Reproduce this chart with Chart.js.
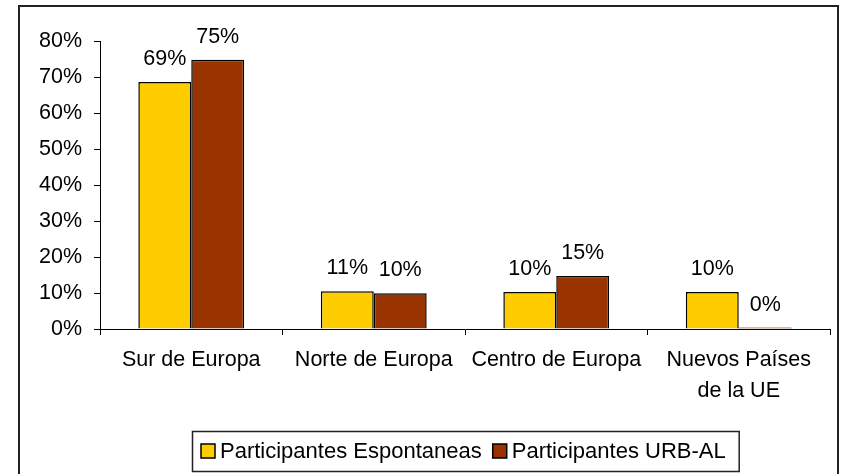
<!DOCTYPE html>
<html>
<head>
<meta charset="utf-8">
<script src="https://cdn.jsdelivr.net/npm/chart.js@4.4.1/dist/chart.umd.min.js"></script>
<style>
  html, body { margin: 0; padding: 0; background: #fff; }
  canvas { display: block; }
</style>
</head>
<body>
<canvas id="grafico" width="848" height="474"></canvas>
<script>
// datos
const categorias = ['Sur de Europa', 'Norte de Europa', 'Centro de Europa', ['Nuevos Países', 'de la UE']];
const espontaneas = [68.6, 10.5, 10.3, 10.3];
const urbal = [74.8, 9.9, 14.7, 0.4];
const ticksY = [0, 10, 20, 30, 40, 50, 60, 70, 80];

const fuente = '"Liberation Sans", Arial, sans-serif';

// marco exterior del grafico
const marco = {
    id: 'marco',
    beforeDraw(chart) {
        const ctx = chart.ctx;
        ctx.save();
        ctx.strokeStyle = '#222';
        ctx.lineWidth = 2;
        ctx.strokeRect(19, 6, 819, 480);
        ctx.restore();
    }
};

// etiquetas de porcentaje arriba de cada barra
const etiquetas = {
    id: 'etiquetas',
    afterDatasetsDraw(chart) {
        const ctx = chart.ctx;
        ctx.save();
        ctx.font = '21.5px ' + fuente;
        ctx.fillStyle = '#000';
        ctx.textAlign = 'center';
        ctx.textBaseline = 'alphabetic';
        chart.data.datasets.forEach((ds, i) => {
            chart.getDatasetMeta(i).data.forEach((bar, j) => {
                ctx.fillText(Math.round(ds.data[j]) + '%', bar.x, bar.y - 17);
            });
        });
        ctx.restore();
    }
};

// leyenda con recuadro, como en Excel
const leyenda = {
    id: 'leyenda',
    afterDraw(chart) {
        const ctx = chart.ctx;
        const area = chart.chartArea;
        ctx.save();
        ctx.font = '22px ' + fuente;
        const items = chart.data.datasets.map(ds => ({
            texto: ds.label, color: ds.backgroundColor, ancho: ctx.measureText(ds.label).width
        }));
        const caja = 14, gapTexto = 5, gapItem = 11, padIzq = 9, padDer = 13;
        let total = padIzq + padDer;
        items.forEach((it, i) => { total += caja + gapTexto + it.ancho + (i > 0 ? gapItem : 0); });
        const top = 431, bottom = 471;
        const left = Math.round((area.left + area.right) / 2 - total / 2);
        const cy = (top + bottom) / 2;
        ctx.strokeStyle = '#222';
        ctx.lineWidth = 1.5;
        ctx.strokeRect(left + 0.5, top + 0.5, total, bottom - top);
        let x = left + padIzq;
        ctx.textBaseline = 'middle';
        ctx.textAlign = 'left';
        items.forEach((it, i) => {
            if (i > 0) x += gapItem;
            ctx.fillStyle = it.color;
            ctx.fillRect(x, cy - 7, caja, caja);
            ctx.strokeStyle = '#000';
            ctx.lineWidth = 1.5;
            ctx.strokeRect(x, cy - 7, caja, caja);
            x += caja + gapTexto;
            ctx.fillStyle = '#000';
            ctx.fillText(it.texto, x, cy + 1);
            x += it.ancho;
        });
        ctx.restore();
    }
};

new Chart(document.getElementById('grafico'), {
    type: 'bar',
    data: {
        labels: categorias,
        datasets: [
            {
                label: 'Participantes Espontaneas',
                data: espontaneas,
                backgroundColor: '#FFCC00',
                borderColor: '#000',
                borderWidth: 1.5,
                categoryPercentage: 0.58,
                barPercentage: 1
            },
            {
                label: 'Participantes URB-AL',
                data: urbal,
                backgroundColor: '#993300',
                borderColor: '#000',
                borderWidth: 1.5,
                categoryPercentage: 0.58,
                barPercentage: 1
            }
        ]
    },
    options: {
        responsive: false,
        animation: false,
        layout: { padding: { top: 41, right: 18, bottom: 45, left: 0 } },
        plugins: {
            legend: { display: false },
            tooltip: { enabled: false }
        },
        scales: {
            x: {
                grid: { drawOnChartArea: false, drawTicks: true, tickLength: 6, color: '#000', offset: true },
                border: { display: true, color: '#000', width: 1 },
                ticks: {
                    color: '#000',
                    font: { family: fuente, size: 21.5, lineHeight: 1.45 },
                    padding: 9,
                    maxRotation: 0,
                    autoSkip: false
                },
                afterFit(scale) { scale.height = 100; }
            },
            y: {
                min: 0,
                max: 80,
                grid: { drawOnChartArea: false, drawTicks: true, tickLength: 6, color: '#000' },
                border: { display: true, color: '#000', width: 1 },
                afterBuildTicks(scale) { scale.ticks = ticksY.map(v => ({ value: v })); },
                ticks: {
                    color: '#000',
                    font: { family: fuente, size: 21.5 },
                    padding: 12,
                    callback: v => v + '%'
                },
                afterFit(scale) { scale.width = 100; }
            }
        }
    },
    plugins: [marco, etiquetas, leyenda]
});
</script>
</body>
</html>
